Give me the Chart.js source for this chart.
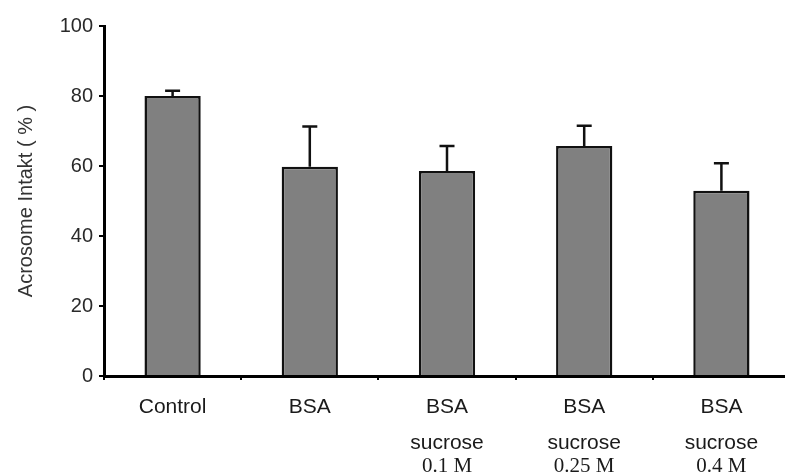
<!DOCTYPE html>
<html>
<head>
<meta charset="utf-8">
<script src="https://cdn.jsdelivr.net/npm/chart.js"></script>
<style>
  html, body { margin: 0; padding: 0; background: #fff; overflow: hidden; }
</style>
</head>
<body>
<canvas id="acrosome-chart" width="790" height="474"></canvas>
<script>
// values
const treatments = ['Control', 'BSA', 'BSA', 'BSA', 'BSA'];
const additives = ['', '', 'sucrose', 'sucrose', 'sucrose'];
const concentrations = ['', '', '0.1 M', '0.25 M', '0.4 M'];
const acrosomeIntact = [80, 59.8, 58.6, 65.7, 52.9];
const errorUp = [1.5, 11.5, 7.1, 5.8, 7.9];
const yTicks = [0, 20, 40, 60, 80, 100];

const labels = treatments.map((t, i) => additives[i] ? [t, '', additives[i]] : t);

// upper error bars, drawn from the y scale
const errorBars = {
  id: 'errorBars',
  afterDatasetsDraw(chart) {
    const ctx = chart.ctx;
    const y = chart.scales.y;
    const meta = chart.getDatasetMeta(0);
    ctx.save();
    ctx.strokeStyle = '#111';
    ctx.lineWidth = 2.5;
    meta.data.forEach((bar, i) => {
      const top = y.getPixelForValue(acrosomeIntact[i] + errorUp[i]);
      ctx.beginPath();
      ctx.moveTo(bar.x, bar.y);
      ctx.lineTo(bar.x, top);
      ctx.moveTo(bar.x - 7.5, top);
      ctx.lineTo(bar.x + 7.5, top);
      ctx.stroke();
    });
    ctx.restore();
  }
};

const ctx = document.getElementById('acrosome-chart').getContext('2d');
new Chart(ctx, {
  type: 'bar',
  data: {
    labels: labels,
    datasets: [{
      data: acrosomeIntact,
      backgroundColor: '#808080',
      borderColor: '#111',
      borderWidth: 2.5,
      categoryPercentage: 1,
      barPercentage: 0.41
    }]
  },
  options: {
    responsive: false,
    animation: false,
    layout: { padding: { left: 8, top: 26, right: 0, bottom: 0 } },
    plugins: { legend: { display: false }, tooltip: { enabled: false } },
    scales: {
      y: {
        min: 0,
        max: 100,
        afterBuildTicks: (scale) => { scale.ticks = yTicks.map(v => ({ value: v })); },
        afterFit: (scale) => { scale.width = 96; },
        border: { display: true, color: '#000', width: 3 },
        grid: { drawOnChartArea: false, color: '#000', lineWidth: 2, tickLength: 5 },
        ticks: {
          color: '#2a2a2a',
          padding: 6,
          font: { family: 'Liberation Sans', size: 20 }
        },
        title: {
          display: true,
          text: 'Acrosome Intakt ( % )',
          color: '#333',
          padding: { top: 6, bottom: 0 },
          font: { family: 'Liberation Sans', size: 20 }
        }
      },
      x: {
        afterFit: (scale) => { scale.height = 78; },
        border: { display: true, color: '#000', width: 3 },
        grid: { offset: true, drawOnChartArea: false, color: '#000', lineWidth: 2, tickLength: 4 },
        ticks: {
          color: '#1a1a1a',
          padding: 18,
          maxRotation: 0,
          autoSkip: false,
          font: { family: 'Liberation Sans', size: 21, lineHeight: 0.86 }
        }
      },
      x2: {
        type: 'category',
        position: 'bottom',
        labels: concentrations,
        offset: true,
        afterFit: (scale) => { scale.height = 20; },
        border: { display: false },
        grid: { display: false, drawTicks: false },
        ticks: {
          color: '#1a1a1a',
          padding: 0,
          maxRotation: 0,
          autoSkip: false,
          font: { family: 'Liberation Serif', size: 21 }
        }
      }
    }
  },
  plugins: [errorBars]
});
</script>
</body>
</html>
